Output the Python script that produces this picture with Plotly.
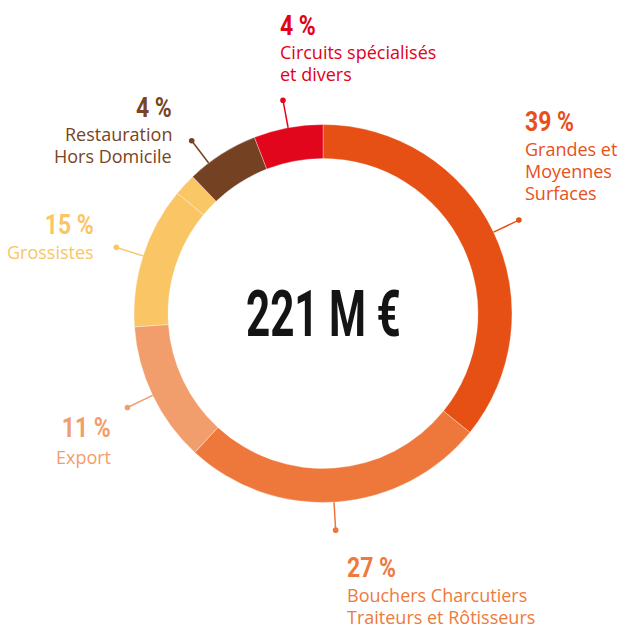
import math
import plotly.graph_objects as go

W, H = 619, 628

# ---- data ----
segments = [
    "Grandes et Moyennes Surfaces",
    "Bouchers Charcutiers Traiteurs et Rôtisseurs",
    "Export",
    "Grossistes",
    "Grossistes (suite)",
    "Restauration Hors Domicile",
    "Circuits spécialisés et divers",
]
slice_shares = [35.8, 26.0, 12.0, 12.1, 1.9, 6.2, 5.9]   # angular share read from the ring
pct_labels = ["39 %", "27 %", "11 %", "15 %", "", "4 %", "4 %"]
name_lines = [
    ["Grandes et", "Moyennes", "Surfaces"],
    ["Bouchers Charcutiers", "Traiteurs et Rôtisseurs"],
    ["Export"],
    ["Grossistes"],
    [],
    ["Restauration", "Hors Domicile"],
    ["Circuits spécialisés", "et divers"],
]
total_label = "221 M €"

# ---- styles ----
slice_colors = ["#E65014", "#EE773B", "#F29E6C", "#FAC564", "#FAC767", "#754123", "#E2061C"]
text_colors = ["#E8501B", "#EE7A3C", "#F29E6C", "#FAC564", "#FAC564", "#7A4423", "#E2001A"]
leader_shift = [0, 0.8, 0, 0, 0, -4.8, 0]

CX, CY, R = 323.0, 313.5, 189.0
HOLE = 0.82
LEAD = 28.0

# text placement (pixels): (x, y, anchor); names give the first line's centre
pct_pos = [(523, 121, "left"), (345, 567, "left"), (113, 427, "right"), (96, 224, "right"),
           None, (174, 107, "right"), (278, 25, "left")]
name_pos = [(523, 149, "left"), (345, 595, "left"), (113, 457, "right"), (96, 252, "right"),
            None, (174, 134, "right"), (278, 52, "left")]
LINE_STEP = 22

PCT_FONT = "Roboto, DejaVu Sans Condensed, sans-serif"
NAME_FONT = "Open Sans, Noto Sans, sans-serif"
PCT_SIZE = 28
TOTAL_SIZE = 64
NAME_SIZE = 18


def px(x):
    return x / W


def py(y):
    return 1 - y / H


fig = go.Figure(go.Pie(
    labels=segments,
    values=slice_shares,
    sort=False,
    direction="clockwise",
    rotation=0,
    hole=HOLE,
    marker=dict(colors=slice_colors, line=dict(color="rgba(255,255,255,0.55)", width=0.6)),
    textinfo="none",
    hoverinfo="skip",
    showlegend=False,
    domain=dict(x=[px(CX - R), px(CX + R)], y=[py(CY + R), py(CY - R)]),
))

shapes = []
annotations = []
total = sum(slice_shares)
cum = 0.0
for i, v in enumerate(slice_shares):
    mid = (cum + v / 2) / total * 360.0 + leader_shift[i]
    cum += v
    if not pct_labels[i]:
        continue
    a = math.radians(mid)
    x0, y0 = CX + R * math.sin(a), CY - R * math.cos(a)
    x1, y1 = CX + (R + LEAD) * math.sin(a), CY - (R + LEAD) * math.cos(a)
    c = slice_colors[i]
    shapes.append(dict(type="line", xref="paper", yref="paper",
                       x0=px(x0), y0=py(y0), x1=px(x1), y1=py(y1),
                       line=dict(color=c, width=1.5)))
    rd = 2.8
    shapes.append(dict(type="circle", xref="paper", yref="paper",
                       x0=px(x1 - rd), x1=px(x1 + rd), y0=py(y1 + rd), y1=py(y1 - rd),
                       fillcolor=c, line=dict(color=c, width=0)))
    xp, yp, anc = pct_pos[i]
    annotations.append(dict(text="<b>" + pct_labels[i] + "</b>", x=px(xp), y=py(yp), align=anc,
                            xref="paper", yref="paper", xanchor=anc, yanchor="middle", height=26,
                            showarrow=False, font=dict(family=PCT_FONT, size=PCT_SIZE, color=text_colors[i])))
    xn, yn, anc = name_pos[i]
    for k, line in enumerate(name_lines[i]):
        annotations.append(dict(text=line, x=px(xn), y=py(yn + k * LINE_STEP), align=anc,
                                xref="paper", yref="paper", xanchor=anc, yanchor="middle", height=22,
                                showarrow=False,
                                font=dict(family=NAME_FONT, size=NAME_SIZE, color=text_colors[i])))

annotations.append(dict(text="<b>" + total_label + "</b>", x=px(CX), y=py(CY + 1), align="center",
                        xref="paper", yref="paper", xanchor="center", yanchor="middle",
                        showarrow=False, font=dict(family=PCT_FONT, size=TOTAL_SIZE, color="#141414")))

fig.update_layout(
    width=W, height=H,
    margin=dict(l=0, r=0, t=0, b=0),
    paper_bgcolor="white", plot_bgcolor="white",
    shapes=shapes, annotations=annotations,
)

# page tweaks: no body margin, and condense the bold figure texts horizontally
post_js = """
document.documentElement.style.margin = '0';
document.body.style.margin = '0';
document.body.style.overflow = 'hidden';
var gd = document.getElementById('{plot_id}');
var squeeze = {'%dpx': 0.82, '%dpx': 0.66};
gd.querySelectorAll('text.annotation-text').forEach(function (t) {
  var k = squeeze[t.style.fontSize];
  if (!k) return;
  var a = t.getAttribute('text-anchor');
  var o = a === 'start' ? 'left' : (a === 'end' ? 'right' : 'center');
  t.style.transformBox = 'fill-box';
  t.style.transformOrigin = o + ' center';
  t.style.transform = 'scaleX(' + k + ')';
});
""" % (PCT_SIZE, TOTAL_SIZE)

fig.write_html("out.html", post_script=post_js, config={"displayModeBar": False})
